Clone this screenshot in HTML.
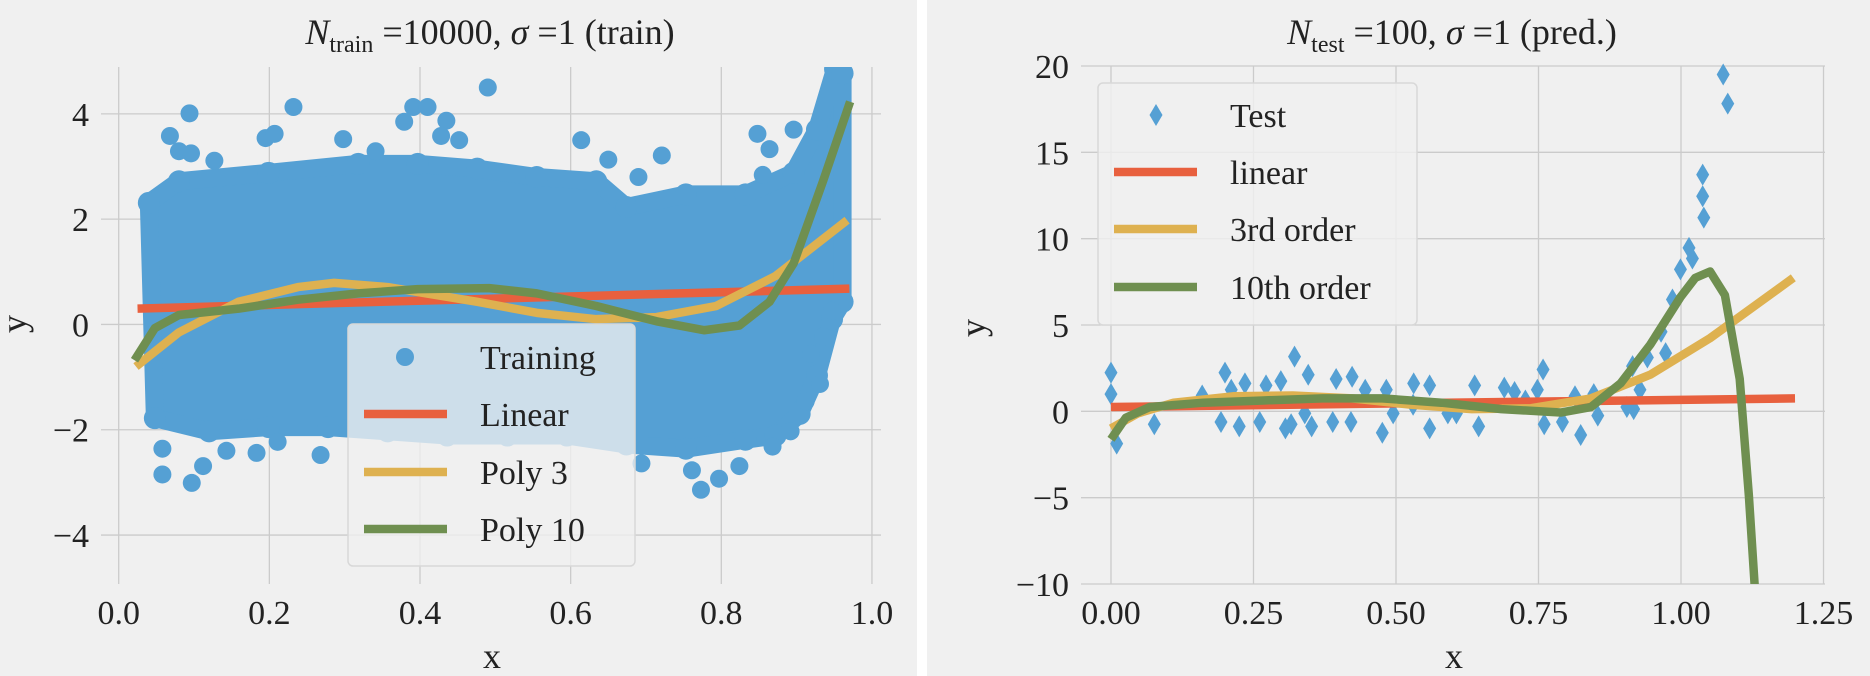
<!DOCTYPE html>
<html><head><meta charset="utf-8"><style>
html,body{margin:0;padding:0;background:#f0f0f0;}
svg{display:block;font-family:"Liberation Serif","DejaVu Serif",serif;}
</style></head><body>
<svg id="fig" width="1870" height="676" viewBox="0 0 1870 676" xmlns="http://www.w3.org/2000/svg">
<rect x="0" y="0" width="1870" height="676" fill="#f0f0f0"/>
<rect x="917" y="0" width="10" height="676" fill="#ffffff"/>
<g id="left"></g>
<g id="right"></g>
</svg>
<script>
// ---------- LEFT PANEL DATA ----------
const trainEnvX = [0.040,0.080,0.199,0.318,0.397,0.476,0.555,0.634,0.674,0.753,0.832,0.896,0.927,0.951,0.961,0.961,0.947,0.927,0.904,0.872,0.832,0.753,0.674,0.595,0.516,0.436,0.357,0.278,0.199,0.120,0.048];
const trainEnvY = [2.31,2.72,2.88,3.05,3.05,2.96,2.80,2.72,2.23,2.47,2.47,2.88,3.70,4.85,4.77,0.43,0.10,-0.97,-1.70,-2.11,-2.19,-2.36,-2.28,-2.11,-2.11,-2.11,-2.03,-1.95,-1.95,-2.03,-1.78];
const trainOutX = [0.094,0.232,0.490,0.391,0.410,0.379,0.435,0.068,0.080,0.096,0.127,0.195,0.207,0.298,0.341,0.614,0.721,0.690,0.848,0.864,0.855,0.896,0.428,0.452,0.650,0.947,0.935,0.919,0.931,0.058,0.058,0.097,0.112,0.143,0.183,0.211,0.268,0.694,0.773,0.797,0.824,0.761,0.868,0.892,0.912];
const trainOutY = [4.01,4.13,4.50,4.13,4.13,3.85,3.87,3.58,3.29,3.25,3.11,3.54,3.62,3.52,3.29,3.50,3.21,2.80,3.62,3.33,2.84,3.70,3.58,3.50,3.13,0.26,-0.23,-0.56,-1.13,-2.36,-2.85,-3.01,-2.69,-2.40,-2.44,-2.23,-2.48,-2.64,-3.14,-2.93,-2.69,-2.77,-2.32,-2.03,-1.46];
const linTrainX = [0.025,0.97];
const linTrainY = [0.30,0.68];
const p3TrainX = [0.023,0.080,0.159,0.238,0.286,0.357,0.476,0.555,0.634,0.714,0.793,0.872,0.967];
const p3TrainY = [-0.80,-0.15,0.43,0.71,0.79,0.71,0.43,0.22,0.10,0.14,0.35,0.92,1.98];
const p10TrainX = [0.021,0.048,0.080,0.159,0.238,0.318,0.397,0.492,0.555,0.634,0.714,0.777,0.824,0.864,0.896,0.935,0.971];
const p10TrainY = [-0.68,-0.07,0.18,0.30,0.47,0.59,0.67,0.69,0.59,0.35,0.06,-0.11,-0.02,0.43,1.16,2.72,4.23];
const leftXTicks = [0.0,0.2,0.4,0.6,0.8,1.0];
const leftXTickLabels = ["0.0","0.2","0.4","0.6","0.8","1.0"];
const leftYTicks = [-4,-2,0,2,4];
const leftYTickLabels = ["\u22124","\u22122","0","2","4"];

// ---------- RIGHT PANEL DATA ----------
const testX = [0.000,0.000,0.010,0.076,0.160,0.200,0.193,0.211,0.225,0.235,0.261,0.272,0.298,0.306,0.316,0.322,0.346,0.340,0.352,0.389,0.395,0.421,0.423,0.446,0.476,0.483,0.495,0.531,0.530,0.559,0.559,0.591,0.606,0.638,0.645,0.690,0.708,0.727,0.748,0.758,0.760,0.792,0.814,0.824,0.847,0.854,0.905,0.915,0.917,0.928,0.941,0.965,0.973,0.985,0.999,1.014,1.020,1.040,1.038,1.038,1.074,1.082];
const testY = [2.24,1.00,-1.87,-0.75,0.92,2.24,-0.62,1.25,-0.87,1.62,-0.62,1.50,1.75,-0.99,-0.75,3.17,2.12,-0.12,-0.87,-0.62,1.87,-0.62,2.00,1.25,-1.24,1.25,-0.12,1.62,0.38,1.50,-0.99,-0.12,-0.12,1.50,-0.87,1.37,1.12,0.63,1.25,2.42,-0.75,-0.62,0.87,-1.37,1.00,-0.25,0.25,2.62,0.13,1.25,3.12,4.61,3.37,6.48,8.22,9.47,8.85,11.22,12.46,13.71,19.51,17.82];
const linTestX = [0.0,1.2];
const linTestY = [0.25,0.75];
const p3TestX = [0.0,0.047,0.11,0.214,0.319,0.423,0.528,0.633,0.737,0.842,0.946,1.051,1.197];
const p3TestY = [-0.99,-0.12,0.50,0.87,0.92,0.75,0.38,0.13,0.18,0.75,2.12,4.24,7.73];
const p10TestX = [0.0,0.026,0.068,0.162,0.267,0.371,0.476,0.58,0.685,0.789,0.842,0.894,0.946,0.999,1.025,1.051,1.077,1.103,1.119,1.129,1.135];
const p10TestY = [-1.62,-0.37,0.25,0.50,0.63,0.75,0.75,0.50,0.13,-0.07,0.25,1.62,3.86,6.61,7.73,8.10,6.73,1.87,-4.86,-9.97,-13];
const rightXTicks = [0,0.25,0.5,0.75,1.0,1.25];
const rightXTickLabels = ["0.00","0.25","0.50","0.75","1.00","1.25"];
const rightYTicks = [-10,-5,0,5,10,15,20];
const rightYTickLabels = ["\u221210","\u22125","0","5","10","15","20"];

const NS = "http://www.w3.org/2000/svg";
const C = {blue:"#55a0d4", red:"#e8603e", yellow:"#deb150", green:"#6f8f50", grid:"#cbcbcb"};
function mk(parent, tag, attrs, txt){
  const e = document.createElementNS(NS, tag);
  for (const k in attrs) e.setAttribute(k, attrs[k]);
  if (txt !== undefined) e.textContent = txt;
  parent.appendChild(e);
  return e;
}

function makeAxis(P){
  const sx = v => P.x0 + (v - P.xmin) * (P.x1 - P.x0) / (P.xmax - P.xmin);
  const sy = v => P.y0 - (v - P.ymin) * (P.y0 - P.y1) / (P.ymax - P.ymin);
  return {sx, sy};
}

function drawGrid(g, A, P, xt, xl, yt, yl, labelRight){
  xt.forEach((t,i)=>{
    const l = mk(g,"line",{x1:A.sx(t),x2:A.sx(t),y1:P.y1,y2:P.y0,stroke:C.grid,"stroke-width":1.3});
    
    
    const tx = mk(g,"text",{x:A.sx(t),y:P.y0+40,"text-anchor":"middle","font-size":34,fill:"#222"},xl[i]);
    
    
  });
  yt.forEach((t,i)=>{
    const l = mk(g,"line",{x1:P.x0,x2:P.x1,y1:A.sy(t),y2:A.sy(t),stroke:C.grid,"stroke-width":1.3});
    
    
    const tx = mk(g,"text",{x:labelRight,y:A.sy(t)+12,"text-anchor":"end","font-size":34,fill:"#222"},yl[i]);
    
    
  });
}

function pts(A, xs, ys){ return xs.map((x,i)=>A.sx(x)+","+A.sy(ys[i])).join(" "); }

function line(g, A, xs, ys, color, name){
  const p = mk(g,"polyline",{points:pts(A,xs,ys),fill:"none",stroke:color,"stroke-width":8.5,"stroke-linejoin":"round"});
  
  
}

function diamond(g, cx, cy){
  const d = mk(g,"polygon",{points:`${cx},${cy-11} ${cx+6.5},${cy} ${cx},${cy+11} ${cx-6.5},${cy}`,fill:C.blue});
  return d;
}

// ---------- LEFT ----------
(function(){
  const g = document.getElementById("left");
  const P = {x0:101,x1:881,y0:584,y1:67,xmin:-0.0235,xmax:1.012,ymin:-4.93,ymax:4.89};
  const A = makeAxis(P);
  const clip = mk(g,"clipPath",{id:"clipL"});
  mk(clip,"rect",{x:P.x0,y:P.y1,width:P.x1-P.x0,height:P.y0-P.y1});
  drawGrid(g,A,P,leftXTicks,leftXTickLabels,leftYTicks,leftYTickLabels,89);
  const pg = mk(g,"g",{"clip-path":"url(#clipL)"});
  const env = mk(pg,"polygon",{points:pts(A,trainEnvX,trainEnvY),fill:C.blue,stroke:C.blue,"stroke-width":18,"stroke-linejoin":"round"});
  
  
  trainEnvX.forEach((x,i)=>{
    const c = mk(pg,"circle",{cx:A.sx(x),cy:A.sy(trainEnvY[i]),r:11,fill:C.blue});
    
    
  });
  trainOutX.forEach((x,i)=>{
    const c = mk(pg,"circle",{cx:A.sx(x),cy:A.sy(trainOutY[i]),r:9,fill:C.blue});
    
    
  });
  line(pg,A,linTrainX,linTrainY,C.red,"linear-fit-line");
  line(pg,A,p3TrainX,p3TrainY,C.yellow,"poly3-fit-line");
  line(pg,A,p10TrainX,p10TrainY,C.green,"poly10-fit-line");
  const t = mk(g,"text",{x:490,y:44,"text-anchor":"middle","font-size":36,fill:"#222"});
  
  
  t.innerHTML = '<tspan font-style="italic">N</tspan><tspan font-size="24" dy="8">train</tspan><tspan dy="-8"> =10000, </tspan><tspan font-style="italic">σ</tspan><tspan> =1 (train)</tspan>';
  const xl = mk(g,"text",{x:492,y:668,"text-anchor":"middle","font-size":36,fill:"#222"},"x");
  
  
  const yl = mk(g,"text",{x:0,y:0,"text-anchor":"middle","font-size":36,fill:"#222",transform:"translate(26,324) rotate(-90)"},"y");
  
  
  const lg = mk(g,"g",{});
  
  
  mk(lg,"rect",{x:348,y:324,width:287,height:242,rx:5,fill:"#f0f0f0","fill-opacity":0.78,stroke:"#d8d8d8","stroke-width":1.5});
  const rows = [["Training",null],["Linear",C.red],["Poly 3",C.yellow],["Poly 10",C.green]];
  const ry = [357,414,472,529];
  rows.forEach((r,i)=>{
    const e = mk(lg,"g",{});
    
    
    if (r[1]) mk(e,"line",{x1:364,x2:447,y1:ry[i],y2:ry[i],stroke:r[1],"stroke-width":8.5});
    else mk(e,"circle",{cx:405,cy:ry[i],r:9,fill:C.blue});
    mk(e,"text",{x:480,y:ry[i]+12,"font-size":34,fill:"#222"},r[0]);
  });
})();

// ---------- RIGHT ----------
(function(){
  const g = document.getElementById("right");
  const P = {x0:1081,x1:1825,y0:584,y1:66,xmin:-0.0526,xmax:1.2526,ymin:-10,ymax:20};
  const A = makeAxis(P);
  const clip = mk(g,"clipPath",{id:"clipR"});
  mk(clip,"rect",{x:P.x0,y:P.y1-12,width:P.x1-P.x0,height:P.y0-P.y1+12});
  drawGrid(g,A,P,rightXTicks,rightXTickLabels,rightYTicks,rightYTickLabels,1069);
  const pg = mk(g,"g",{"clip-path":"url(#clipR)"});
  testX.forEach((x,i)=>{
    const d = diamond(pg,A.sx(x),A.sy(testY[i]));
    
    
  });
  const lc = mk(g,"g",{"clip-path":"url(#clipR)"});
  line(lc,A,linTestX,linTestY,C.red,"linear-pred-line");
  line(lc,A,p3TestX,p3TestY,C.yellow,"third-order-pred-line");
  line(lc,A,p10TestX,p10TestY,C.green,"tenth-order-pred-line");
  const t = mk(g,"text",{x:1452,y:44,"text-anchor":"middle","font-size":36,fill:"#222"});
  
  
  t.innerHTML = '<tspan font-style="italic">N</tspan><tspan font-size="24" dy="8">test</tspan><tspan dy="-8"> =100, </tspan><tspan font-style="italic">σ</tspan><tspan> =1 (pred.)</tspan>';
  const xl = mk(g,"text",{x:1454,y:668,"text-anchor":"middle","font-size":36,fill:"#222"},"x");
  
  
  const yl = mk(g,"text",{x:0,y:0,"text-anchor":"middle","font-size":36,fill:"#222",transform:"translate(985,328) rotate(-90)"},"y");
  
  
  const lg = mk(g,"g",{});
  
  
  mk(lg,"rect",{x:1098,y:83,width:319,height:242,rx:5,fill:"#f0f0f0","fill-opacity":0.8,stroke:"#d8d8d8","stroke-width":1.5});
  const rows = [["Test",null],["linear",C.red],["3rd order",C.yellow],["10th order",C.green]];
  const ry = [115,172,229,287];
  rows.forEach((r,i)=>{
    const e = mk(lg,"g",{});
    
    
    if (r[1]) mk(e,"line",{x1:1114,x2:1197,y1:ry[i],y2:ry[i],stroke:r[1],"stroke-width":8.5});
    else diamond(e,1156,ry[i]);
    mk(e,"text",{x:1230,y:ry[i]+12,"font-size":34,fill:"#222"},r[0]);
  });
})();
</script>
</body></html>
